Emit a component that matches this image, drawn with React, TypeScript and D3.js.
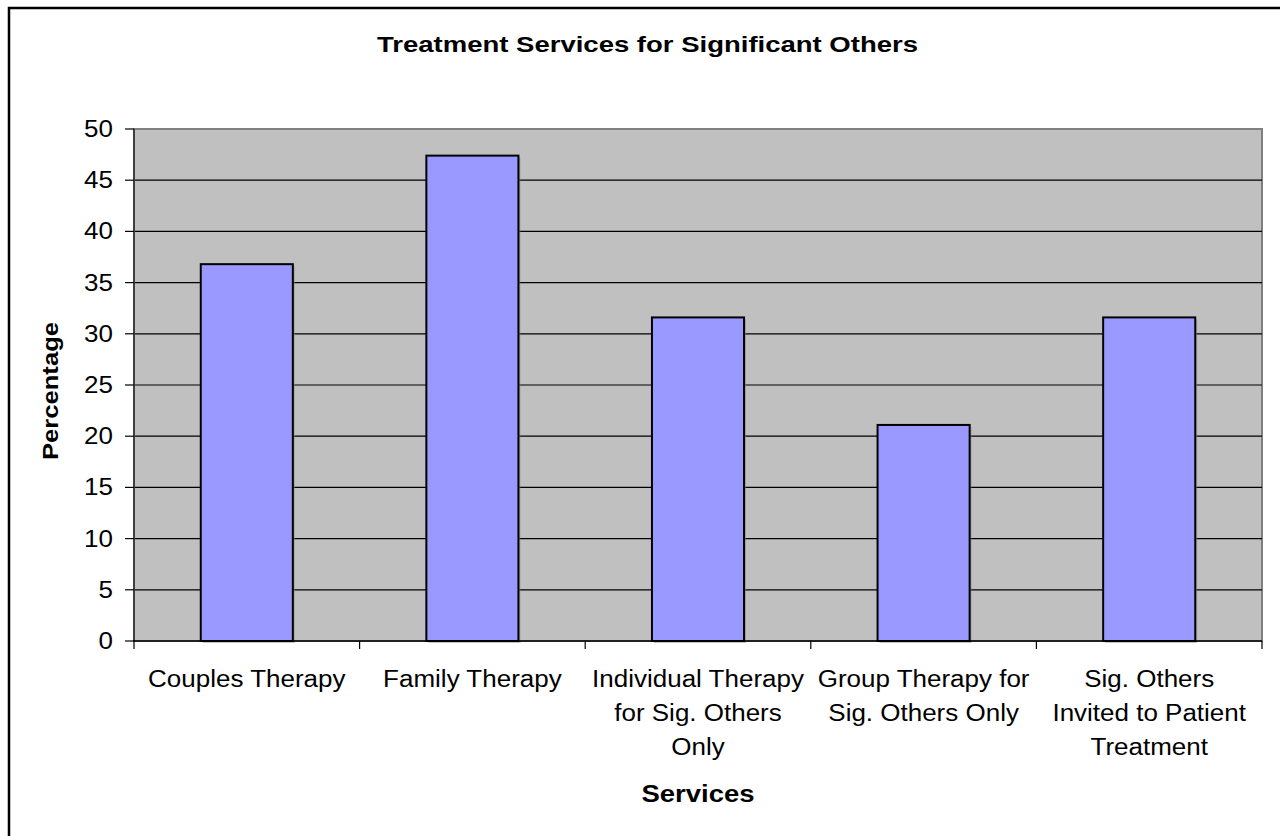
import React from "react";
import * as d3 from "d3";

const categories = [
  "Couples Therapy",
  "Family Therapy",
  "Individual Therapy for Sig. Others Only",
  "Group Therapy for Sig. Others Only",
  "Sig. Others Invited to Patient Treatment",
];
const categoryLines = [
  ["Couples Therapy"],
  ["Family Therapy"],
  ["Individual Therapy", "for Sig. Others", "Only"],
  ["Group Therapy for", "Sig. Others Only"],
  ["Sig. Others", "Invited to Patient", "Treatment"],
];
const values = [36.8, 47.4, 31.6, 21.1, 31.6];
const yTicks = [0, 5, 10, 15, 20, 25, 30, 35, 40, 45, 50];

const W = 1280;
const H = 836;
const plot = { left: 134, right: 1262, top: 129, bottom: 641 };
const FONT = "'Liberation Sans', Arial, sans-serif";
const SX = 1.13;

export default function App() {
  const x = d3
    .scaleBand<string>()
    .domain(categories)
    .range([plot.left, plot.right])
    .paddingInner(0)
    .paddingOuter(0);
  const y = d3.scaleLinear().domain([0, 50]).range([plot.bottom, plot.top]);
  const bw = x.bandwidth() / 2.45;

  const boundaries = d3.range(categories.length + 1).map((i) => plot.left + i * x.bandwidth());

  return (
    <svg
      width={W}
      height={H}
      style={{ position: "absolute", left: 0, top: 0, background: "#fff" }}
      fontFamily={FONT}
    >
      <rect x={9} y={8} width={1400} height={1000} fill="#fff" stroke="#000" strokeWidth={2.5} />

      {/* plot area */}
      <rect
        x={plot.left}
        y={plot.top}
        width={plot.right - plot.left}
        height={plot.bottom - plot.top}
        fill="#C0C0C0"
        stroke="#808080"
        strokeWidth={2}
      />
      {yTicks
        .filter((t) => t > 0 && t < 50)
        .map((t) => (
          <line key={"g" + t} x1={plot.left} x2={plot.right} y1={y(t)} y2={y(t)} stroke="#000" strokeWidth={1.2} />
        ))}

      {/* bars */}
      {categories.map((c, i) => {
        const cx = (x(c) as number) + x.bandwidth() / 2;
        return (
          <g key={c}>
            <rect
              x={cx - bw / 2 + 2}
              y={y(values[i]) + 2}
              width={bw}
              height={y(0) - y(values[i])}
              fill="#8a8a8a"
              opacity={0.5}
            />
            <rect
              x={cx - bw / 2}
              y={y(values[i])}
              width={bw}
              height={y(0) - y(values[i])}
              fill="#9999FF"
              stroke="#000"
              strokeWidth={2}
            />
          </g>
        );
      })}

      {/* axes */}
      <line x1={plot.left} x2={plot.left} y1={plot.top} y2={plot.bottom} stroke="#404040" strokeWidth={2} />
      <line x1={plot.left - 1} x2={plot.right} y1={plot.bottom} y2={plot.bottom} stroke="#000" strokeWidth={1.5} />
      {yTicks.map((t) => (
        <g key={"t" + t}>
          <line x1={plot.left - 9} x2={plot.left} y1={y(t)} y2={y(t)} stroke="#000" strokeWidth={1.2} />
          <text
            transform={`translate(113,${y(t) + 8}) scale(${SX},1)`}
            textAnchor="end"
            fontSize={23}
            fill="#000"
          >
            {t}
          </text>
        </g>
      ))}
      {boundaries.map((bx, i) => (
        <line key={"xt" + i} x1={bx} x2={bx} y1={plot.bottom} y2={plot.bottom + 8} stroke="#000" strokeWidth={1.2} />
      ))}
      {categories.map((c, i) => {
        const cx = (x(c) as number) + x.bandwidth() / 2;
        return categoryLines[i].map((ln, j) => (
          <text
            key={c + j}
            transform={`translate(${cx},${686.7 + j * 34}) scale(${SX},1)`}
            textAnchor="middle"
            fontSize={23}
            fill="#000"
          >
            {ln}
          </text>
        ));
      })}

      {/* titles */}
      <text x={647.5} y={52} textAnchor="middle" fontSize={21.5} fontWeight="bold" textLength={541} lengthAdjust="spacingAndGlyphs">
        Treatment Services for Significant Others
      </text>
      <text x={698} y={801.7} textAnchor="middle" fontSize={23} fontWeight="bold" textLength={113} lengthAdjust="spacingAndGlyphs">
        Services
      </text>
      <text
        transform="translate(58.4,391) rotate(-90)"
        textAnchor="middle"
        fontSize={21.5}
        fontWeight="bold"
        textLength={138}
        lengthAdjust="spacingAndGlyphs"
      >
        Percentage
      </text>
    </svg>
  );
}
